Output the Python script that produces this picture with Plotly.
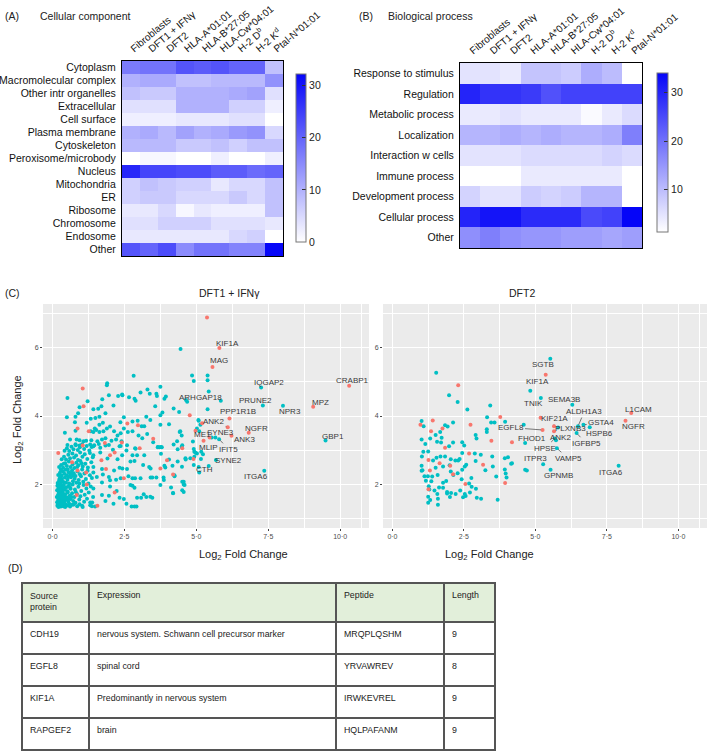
import plotly.graph_objects as go

FONT = "Liberation Sans, Arial, sans-serif"
W, H = 709, 752

# ---------------- Heatmap data ----------------
heat_cols = ["Fibroblasts", "DFT1 + IFNγ", "DFT2", "HLA-A*01:01", "HLA-B*27:05",
             "HLA-Cw*04:01", "H-2 D<sup>b</sup>", "H-2 K<sup>d</sup>", "Ptal-N*01:01"]

cc_rows = ["Cytoplasm", "Macromolecular complex", "Other intr organelles", "Extracellular",
           "Cell surface", "Plasma membrane", "Cytoskeleton", "Peroxisome/microbody",
           "Nucleus", "Mitochondria", "ER", "Ribosome", "Chromosome", "Endosome", "Other"]
cc_vals = [
    [17, 18, 18, 22, 21, 22, 20, 20, 8],
    [10, 11, 11, 8, 8, 9, 9, 9, 14],
    [8, 7, 7, 10, 10, 10, 11, 12, 4],
    [4, 4, 4, 10, 10, 10, 6, 6, 2],
    [2, 2, 2, 3, 3, 3, 4, 4, 0],
    [10, 11, 9, 12, 10, 11, 13, 14, 5],
    [9, 9, 9, 7, 7, 8, 6, 8, 8],
    [0, 1, 1, 0, 0, 2, 0, 0, 2],
    [28, 24, 24, 23, 23, 21, 21, 19, 20],
    [6, 8, 7, 6, 6, 3, 5, 5, 8],
    [6, 7, 7, 5, 5, 5, 7, 5, 8],
    [3, 3, 5, 1, 3, 2, 2, 2, 8],
    [4, 4, 6, 6, 6, 4, 4, 4, 3],
    [3, 3, 3, 3, 3, 3, 5, 6, 0],
    [22, 20, 23, 15, 18, 18, 16, 16, 32],
]

bp_rows = ["Response to stimulus", "Regulation", "Metabolic process", "Localization",
           "Interaction w cells", "Immune process", "Development process",
           "Cellular process", "Other"]
bp_vals = [
    [5, 5, 4, 9, 9, 8, 12, 10, 1.3],
    [30, 28, 28, 27, 24, 26, 26, 26, 26],
    [4, 4, 5, 4, 4, 4, 2, 4, 6],
    [11, 11, 12, 11, 12, 11, 11, 12, 18],
    [5, 5, 5, 6, 6, 6, 6, 7, 6],
    [1.3, 1.3, 1.3, 4, 4, 4, 4, 4, 1.3],
    [7, 5, 5, 8, 7, 8, 11, 11, 1.3],
    [30, 32, 32, 29, 29, 29, 25, 26, 34],
    [16, 18, 16, 15, 15, 14, 14, 13, 14],
]

# ---------------- Scatter data ----------------
left_teal = [
    # dense cluster
    (0.17,1.36),(0.21,1.33),(0.25,1.38),(0.29,1.34),(0.33,1.41),(0.38,1.35),(0.44,1.33),(0.52,1.37),
    (0.61,1.34),(0.69,1.39),(0.86,1.35),(1.05,1.33),(1.37,1.35),(1.48,1.34),(0.19,1.41),(0.23,1.43),
    (0.16,1.47),(0.2,1.52),(0.24,1.45),(0.28,1.55),(0.32,1.49),(0.37,1.58),(0.41,1.46),(0.46,1.53),
    (0.55,1.48),(0.63,1.56),(0.72,1.5),(0.8,1.45),(0.93,1.55),(1.1,1.48),(1.2,1.57),(1.31,1.46),
    (0.15,1.62),(0.19,1.68),(0.23,1.6),(0.27,1.72),(0.31,1.65),(0.35,1.77),(0.4,1.63),(0.44,1.7),
    (0.49,1.61),(0.53,1.75),(0.6,1.66),(0.68,1.73),(0.76,1.62),(0.85,1.71),(0.97,1.64),(1.12,1.69),
    (1.26,1.75),(1.41,1.62),(0.2,1.57),(0.3,1.41),(0.35,1.52),(0.22,1.75),(0.38,1.7),(0.45,1.4),
    (0.16,1.82),(0.21,1.88),(0.26,1.8),(0.3,1.93),(0.34,1.85),(0.39,1.97),(0.43,1.83),(0.48,1.91),
    (0.52,1.79),(0.57,1.95),(0.63,1.86),(0.7,1.99),(0.78,1.84),(0.9,1.92),(1.0,1.8),(1.08,1.97),
    (1.18,1.87),(1.33,1.93),(0.28,1.85),(0.17,1.95),(0.25,1.97),(0.42,1.88),(0.48,1.6),(0.58,1.42),
    (0.18,2.03),(0.23,2.1),(0.28,2.01),(0.33,2.15),(0.38,2.06),(0.43,2.19),(0.47,2.04),(0.52,2.13),
    (0.58,2.02),(0.64,2.2),(0.71,2.08),(0.77,2.16),(0.83,2.04),(0.91,2.12),(0.99,2.23),(1.07,2.07),
    (1.16,2.15),(1.25,2.02),(1.37,2.18),(0.32,2.08),(0.27,2.2),(0.66,1.62),(0.74,1.4),(0.94,1.41),
    (0.2,2.27),(0.26,2.33),(0.31,2.25),(0.36,2.38),(0.41,2.3),(0.46,2.42),(0.5,2.26),(0.56,2.35),
    (0.62,2.28),(0.68,2.41),(0.74,2.32),(0.8,2.24),(0.87,2.37),(0.95,2.29),(1.03,2.43),(1.11,2.31),
    (1.22,2.39),(1.3,2.26),(1.42,2.34),(0.23,2.5),(0.3,2.56),(0.37,2.48),(0.44,2.61),(0.5,2.53),
    (0.57,2.66),(0.63,2.5),(0.7,2.58),(0.76,2.47),(0.83,2.63),(0.9,2.55),(0.97,2.68),(1.05,2.52),
    (1.14,2.6),(1.23,2.49),(1.35,2.64),(0.32,2.73),(0.4,2.8),(0.47,2.72),(0.55,2.86),(0.61,2.76),
    (0.69,2.9),(0.75,2.78),(0.82,2.84),(0.89,2.71),(0.96,2.93),(1.04,2.8),(1.12,2.88),(1.21,2.74),
    (1.3,2.91),(1.4,2.79),(0.42,2.98),(0.5,3.05),(0.58,2.97),(0.66,3.1),(0.73,3.02),(0.81,3.14),
    (0.88,3.0),(0.95,3.08),(1.03,3.17),(1.1,3.03),(1.19,3.12),(1.28,2.99),(1.36,3.09),
    (0.26,1.66),(0.34,1.6),(0.56,1.57),(0.24,2.15),(0.36,1.9),(0.55,2.21),(0.66,2.33),(0.86,2.5),
    (0.61,1.9),(0.73,2.25),(0.93,2.02),(1.01,2.61),(0.53,2.43),(0.39,2.6),(0.29,2.43),(0.81,1.77),
    # surrounding points
    (0.52,4.53),(1.89,4.9),(0.94,4.26),(1.22,4.43),(1.73,4.49),(1.96,4.61),(2.28,4.59),(2.42,4.63),
    (2.12,4.31),(1.7,4.29),(1.42,4.2),(1.59,4.21),(0.89,4.08),(0.5,3.96),(0.8,3.98),(1.33,3.92),
    (1.49,3.94),(1.63,3.98),(1.84,4.08),(0.78,3.82),(1.19,3.8),(1.75,3.8),(1.63,3.74),(1.47,3.63),
    (1.33,3.55),(1.42,3.53),(1.52,3.59),(1.63,3.53),(1.77,3.55),(1.89,3.63),(2.0,3.69),(0.8,3.57),
    (0.43,3.51),(2.14,3.55),(2.37,3.49),(2.26,3.43),(0.61,3.31),(0.84,3.31),(0.94,3.29),(1.08,3.26),
    (1.17,3.27),(1.35,3.29),(1.56,3.26),(1.72,3.31),(1.84,3.35),(2.05,3.27),(2.21,3.31),(2.4,3.26),
    (0.52,3.15),(0.8,3.17),(0.94,3.13),(1.31,3.16),(1.45,3.14),(1.61,3.18),(1.96,3.15),(2.37,3.12),
    (1.42,3.11),(1.66,3.07),(1.84,3.13),(2.1,3.01),(2.33,3.11),(1.42,2.85),(1.66,2.93),(1.91,2.75),
    (2.26,2.73),(2.42,2.85),(1.42,2.5),(1.72,2.44),(2.14,2.4),(2.33,2.48),(1.54,2.21),(1.96,2.21),
    (1.72,2.05),(2.21,2.13),(2.37,2.17),(1.42,1.87),(2.0,1.93),(2.23,1.8),(1.72,1.68),(1.96,1.66),
    (1.84,1.5),(1.38,1.46),(2.12,1.42),(2.33,1.6),(1.31,1.38),(1.03,1.36),(1.75,2.28),(2.0,2.11),
    (2.82,5.18),(3.75,4.86),(3.06,4.69),(3.38,4.65),(3.61,4.65),(3.63,4.59),(2.66,4.55),(2.85,4.51),
    (2.89,4.45),(2.43,4.61),(3.89,4.51),(3.57,4.29),(4.21,4.22),(4.4,4.12),(3.82,4.1),(3.75,4.02),
    (3.26,3.98),(3.4,3.88),(2.96,3.86),(2.78,3.84),(2.48,3.96),(2.36,3.82),(5.07,3.88),(3.1,3.7),
    (3.19,3.7),(3.75,3.74),(4.05,3.76),(2.48,3.63),(2.62,3.53),(2.78,3.55),(2.99,3.43),(3.12,3.35),
    (3.29,3.47),(3.5,3.23),(4.42,3.53),(4.49,3.43),(2.59,3.14),(2.89,3.04),(3.66,3.08),(3.73,3.08),
    (3.8,3.08),(4.21,3.16),(4.35,3.02),(4.51,3.14),(4.88,3.25),
    (2.57,2.99),(2.87,3.05),(3.66,3.09),(3.77,3.09),(4.91,3.03),(2.78,2.85),(2.94,2.85),(3.19,2.85),
    (3.77,2.89),(4.05,2.72),(4.35,2.66),(4.63,2.72),(4.79,2.76),(2.71,2.66),(2.85,2.68),(3.15,2.56),
    (3.36,2.5),(3.41,2.46),(3.89,2.54),(4.17,2.54),(2.43,2.46),(2.59,2.44),(4.24,2.23),(2.64,2.23),
    (2.78,2.17),(2.87,2.17),(3.06,2.17),(3.41,2.19),(3.47,2.19),(3.61,2.19),(3.86,2.19),(2.71,1.97),
    (2.78,1.95),(3.75,1.97),(4.51,2.07),(4.56,1.99),(2.85,1.89),(4.19,1.74),(4.56,1.77),(3.17,1.7),
    (2.94,1.6),(3.08,1.6),(3.26,1.62),(3.47,1.6),(2.48,1.56),(2.57,1.42),(2.75,1.34),(2.85,1.34),
    (2.92,1.34),
    (4.45,5.97),(4.85,5.19),(4.91,5.03),(5.39,5.19),(5.39,5.05),(5.43,4.72),(4.64,4.47),(4.68,4.42),
    (5.85,4.45),(5.39,4.2),(5.08,3.86),(5.14,3.74),(5.02,3.63),(5.1,3.55),(5.53,3.37),(5.66,3.37),
    (5.79,3.32),(4.93,2.95),(5.02,2.9),(5.17,2.95),(5.16,2.74),(4.91,2.56),(4.62,2.76),(4.5,2.51),
    (4.56,2.07),(4.59,1.97),(4.51,1.82),(4.19,1.73),(4.12,1.9),(3.87,2.12),(3.92,2.49),(4.24,2.26),
    (3.4,1.63),(5.43,2.53),(5.1,2.34),(5.68,2.71),(7.36,2.39),(7.25,4.84),(7.31,4.31),(8.01,4.3),
    (9.49,3.28),(3.3,4.78),(3.94,4.57),(4.33,3.26),(4.49,3.1),(4.44,3.55),(5.08,2.5),(4.97,2.92),
    (4.93,2.8),(5.23,2.88),(1.9,4.96),
]
left_red = [
    (5.37,6.89),(5.8,6.0),(5.56,5.44),(10.31,4.89),(9.06,4.27),(6.15,3.93),(6.09,3.67),(6.82,3.51),
    (6.22,3.42),(5.25,3.27),(1.05,4.81),(1.08,4.29),(0.87,3.63),(1.26,3.55),(1.82,3.21),(1.05,3.13),
    (0.2,2.91),(0.68,2.64),(0.87,2.4),(1.17,2.34),(0.84,1.68),(1.7,2.7),(2.0,2.85),(2.16,2.93),
    (1.86,2.44),(2.16,1.75),(1.56,1.36),(1.19,1.99),(4.77,4.02),(2.97,3.73),(3.5,3.33),(2.41,3.22),
    (3.03,3.05),(4.51,3.05),(3.98,2.7),(3.75,2.46),(4.19,2.28),(2.48,2.17),(5.2,3.79),(4.9,2.74),
    (4.97,3.57),(5.46,3.37),(2.6,3.78),
]

right_teal = [
    (1.53,5.27),(1.98,4.61),(2.28,4.41),(2.62,4.19),(3.42,4.31),(3.31,3.96),(3.45,3.81),(3.57,3.81),
    (3.94,3.83),(1.02,3.85),(1.09,3.7),(1.84,3.73),(1.93,3.69),(2.12,3.81),(1.67,3.53),(1.51,3.44),
    (1.32,3.34),(1.15,3.18),(1.02,3.31),(1.72,3.36),(1.56,3.24),(1.7,3.22),(3.3,3.61),(3.3,3.53),
    (2.91,3.44),(2.94,3.34),(2.12,3.22),(2.44,3.23),(2.51,3.13),(1.98,3.11),(1.08,2.95),(1.03,2.81),
    (1.25,2.96),(1.68,2.81),(1.84,2.81),(2.44,2.91),(2.88,2.9),(3.09,2.86),(2.35,2.74),(2.3,2.69),
    (1.54,2.77),(1.42,2.69),(2.04,2.73),(2.2,2.69),(2.91,2.68),(3.49,2.81),(3.93,2.76),(4.04,2.79),
    (4.18,2.61),(4.7,2.4),(1.02,2.54),(1.05,2.41),(1.02,2.39),(1.51,2.48),(1.77,2.52),(2.0,2.55),
    (2.04,2.37),(2.13,2.27),(2.28,2.32),(2.44,2.42),(2.53,2.52),(2.58,2.57),(3.25,2.41),(3.51,2.52),
    (3.93,2.43),(3.96,2.31),(3.63,2.22),(3.99,2.19),(1.12,2.23),(1.24,2.23),(1.39,2.22),(1.58,2.27),
    (1.17,2.1),(1.36,2.08),(1.77,2.04),(1.88,2.09),(2.76,2.18),(2.42,2.14),(2.68,2.02),(1.27,1.94),
    (1.63,1.9),(1.29,1.84),(1.47,1.81),(1.77,1.89),(1.91,1.77),(2.05,1.74),(2.21,1.71),(2.37,1.81),
    (2.53,1.71),(2.77,1.92),(2.92,1.86),(1.25,1.63),(1.32,1.53),(1.25,1.45),(1.57,1.71),(1.59,1.57),
    (1.59,1.39),(1.91,1.72),(2.01,1.62),(2.47,1.61),(2.56,1.65),(2.71,1.75),(2.95,1.6),(3.1,1.57),
    (3.68,1.54),
    (5.52,5.68),(5.19,4.53),(4.82,4.74),(6.29,4.33),(6.49,3.7),(6.68,3.74),(6.9,3.67),(6.44,3.5),
    (5.79,3.66),(4.64,3.21),(4.59,3.74),(5.72,3.29),(5.68,3.34),(5.75,3.05),(5.27,2.58),(5.53,2.42),
    (7.91,2.54),(4.64,2.42),(4.15,2.6),
]
right_red = [
    (2.3,4.9),(3.77,3.97),(0.98,3.74),(1.41,3.87),(1.35,3.55),(1.75,3.63),(2.73,3.74),(3.46,3.27),
    (4.18,3.23),(1.84,3.07),(2.68,2.9),(1.26,2.71),(1.65,2.61),(2.02,2.54),(3.17,2.57),(1.31,2.4),
    (2.12,2.29),(1.26,1.85),(2.55,2.0),(3.94,2.03),(5.18,3.95),(5.65,3.7),(5.65,3.55),(5.25,3.59),
    (8.35,4.09),(8.15,3.86),(5.36,5.21),
]

# labels: (name, point x, point y, text x, text y, draw segment)
left_labels = [
    ("KIF1A", 5.8, 6.0, 6.08, 6.12, False), ("MAG", 5.56, 5.44, 5.8, 5.63, False),
    ("IQGAP2", 7.25, 4.84, 7.51, 4.97, False), ("CRABP1", 10.31, 4.89, 10.43, 5.03, False),
    ("ARHGAP18", 4.64, 4.47, 5.14, 4.54, False), ("PRUNE2", 7.31, 4.31, 7.05, 4.47, False),
    ("NPR3", 8.01, 4.3, 8.26, 4.12, False), ("MPZ", 9.06, 4.27, 9.31, 4.41, False),
    ("PPP1R1B", 6.15, 3.93, 6.43, 4.13, True), ("ANK2", 6.09, 3.67, 5.6, 3.83, True),
    ("NGFR", 6.82, 3.51, 7.08, 3.64, False), ("ANK3", 6.22, 3.42, 6.68, 3.31, False),
    ("ME1", 4.97, 3.57, 5.2, 3.47, False), ("SYNE3", 5.53, 3.37, 5.83, 3.51, True),
    ("MLIP", 5.25, 3.27, 5.43, 3.08, True), ("IFIT5", 5.79, 3.32, 6.12, 3.02, True),
    ("SYNE2", 5.68, 2.71, 6.12, 2.7, False), ("CTH", 5.1, 2.34, 5.29, 2.43, False),
    ("ITGA6", 7.36, 2.39, 7.07, 2.21, False), ("GBP1", 9.5, 3.29, 9.75, 3.41, False),
]
right_labels = [
    ("SGTB", 5.52, 5.68, 5.28, 5.51, False), ("KIF1A", 5.36, 5.21, 5.08, 5.02, False),
    ("TNIK", 5.19, 4.53, 4.92, 4.36, False), ("SEMA3B", 6.29, 4.33, 6.01, 4.48, False),
    ("L1CAM", 8.35, 4.09, 8.62, 4.2, False), ("NGFR", 8.15, 3.86, 8.43, 3.68, False),
    ("ALDH1A3", 6.49, 3.7, 6.71, 4.13, True), ("GSTA4", 6.68, 3.74, 7.3, 3.8, True),
    ("HSPB6", 6.9, 3.67, 7.23, 3.5, False), ("IGFBP5", 6.44, 3.5, 6.77, 3.2, True),
    ("PLXNB3", 5.79, 3.66, 6.22, 3.62, False), ("KIF21A", 5.65, 3.7, 5.65, 3.93, True),
    ("EGFL8", 5.25, 3.59, 4.13, 3.66, True), ("FHOD1", 4.64, 3.21, 4.87, 3.34, False),
    ("ANK2", 5.72, 3.29, 5.89, 3.37, False), ("HPSE", 5.68, 3.34, 5.33, 3.06, True),
    ("VAMP5", 5.75, 3.05, 6.15, 2.76, True), ("ITPR3", 5.27, 2.58, 4.99, 2.74, False),
    ("GPNMB", 5.53, 2.42, 5.79, 2.24, False), ("ITGA6", 7.91, 2.54, 7.64, 2.34, False),
]

x_tickvals = [0, 2.5, 5, 7.5, 10]
x_ticktext = ["0·0", "2·5", "5·0", "7·5", "10·0"]
y_tickvals = [2, 4, 6]

# ---------------- Table data ----------------
tbl_header = ["Source<br>protein", "Expression", "Peptide", "Length"]
tbl_protein = ["CDH19", "EGFL8", "KIF1A", "RAPGEF2"]
tbl_expression = ["nervous system. Schwann cell precursor marker", "spinal cord",
                  "Predominantly in nervous system", "brain"]
tbl_peptide = ["MRQPLQSHM", "YRVAWREV", "IRWKEVREL", "HQLPAFANM"]
tbl_length = ["9", "8", "9", "9"]

# ---------------- Figure ----------------
def px(x): return x / W
def py(y): return 1 - y / H

blue_scale = [[0, "#FFFFFF"], [1, "#0505F8"]]
fig = go.Figure()

fig.add_trace(go.Heatmap(
    z=cc_vals, x=heat_cols, y=cc_rows, colorscale=blue_scale, zmin=0, zmax=32.2,
    xaxis="x", yaxis="y",
    colorbar=dict(x=px(296), xanchor="left", y=py(158), yanchor="middle", len=168 / H,
                  thickness=10, outlinewidth=1, outlinecolor="#777",
                  tickvals=[0, 10, 20, 30], ticks="inside", ticklen=4, tickcolor="#333",
                  tickfont=dict(size=10.5, family=FONT, color="#222"), xpad=0, ypad=0)))
fig.add_trace(go.Heatmap(
    z=bp_vals, x=heat_cols, y=bp_rows, colorscale=blue_scale, zmin=1.3, zmax=34,
    xaxis="x2", yaxis="y2",
    colorbar=dict(x=px(657), xanchor="left", y=py(152.5), yanchor="middle", len=159 / H,
                  thickness=11, outlinewidth=1, outlinecolor="#777",
                  tickvals=[10, 20, 30], ticks="inside", ticklen=4, tickcolor="#333",
                  tickfont=dict(size=10.5, family=FONT, color="#222"), xpad=0, ypad=0)))

teal, red = "#00BFC4", "#F8766D"
for pts, col, xa, ya in [(left_teal, teal, "x3", "y3"), (left_red, red, "x3", "y3"),
                         (right_teal, teal, "x4", "y4"), (right_red, red, "x4", "y4")]:
    fig.add_trace(go.Scatter(x=[p[0] for p in pts], y=[p[1] for p in pts], mode="markers",
                             marker=dict(color=col, size=4, line=dict(width=0)),
                             xaxis=xa, yaxis=ya, showlegend=False, hoverinfo="skip"))

fig.add_trace(go.Table(
    domain=dict(x=[px(22), px(495)], y=[0.0, py(583)]),
    columnwidth=[67, 247, 108, 51],
    header=dict(values=tbl_header, fill_color="#E2EFDA", line=dict(color="#555", width=1.2),
                align="left", height=39, font=dict(size=8.8, family=FONT, color="#222")),
    cells=dict(values=[tbl_protein, tbl_expression, tbl_peptide, tbl_length],
               fill_color="white", line=dict(color="#555", width=1.2),
               align="left", height=32, font=dict(size=8.8, family=FONT, color="#222"))))

heat_x = dict(side="top", tickangle=-40, showline=True, mirror=True, linecolor="black",
              linewidth=1.2, ticks="outside", ticklen=2, tickcolor="rgba(0,0,0,0)",
              tickfont=dict(size=10, family=FONT, color="#111"),
              showgrid=False, zeroline=False, automargin=False)
heat_y = dict(autorange="reversed", showline=True, mirror=True, linecolor="black",
              linewidth=1.2, ticks="outside", ticklen=3, tickcolor="rgba(0,0,0,0)",
              tickfont=dict(size=10.5, family=FONT, color="#111"),
              showgrid=False, zeroline=False, automargin=False)

def sc_x(dom, anchor):
    return dict(domain=dom, anchor=anchor, range=[-0.33, 11.0], tickvals=x_tickvals,
                ticktext=x_ticktext, showgrid=True, gridcolor="white", gridwidth=1.1,
                minor=dict(tickvals=[1.25, 3.75, 6.25, 8.75, 10.75], showgrid=True,
                           gridcolor="white", gridwidth=0.5, ticks=""),
                zeroline=False, ticks="outside", ticklen=2, tickcolor="#444",
                tickfont=dict(size=7, family=FONT, color="#4D4D4D"), showline=False,
                automargin=False)

def sc_y(dom, anchor):
    return dict(domain=dom, anchor=anchor, range=[0.71, 7.29], tickvals=y_tickvals,
                showgrid=True, gridcolor="white", gridwidth=1.1,
                minor=dict(tickvals=[1, 3, 5, 7], showgrid=True, gridcolor="white",
                           gridwidth=0.5, ticks=""),
                zeroline=False, ticks="outside", ticklen=2, tickcolor="#444",
                tickfont=dict(size=7, family=FONT, color="#4D4D4D"), showline=False,
                automargin=False)

sc_ydom = [py(528), py(304)]
fig.update_layout(
    width=W, height=H, margin=dict(l=0, r=0, t=0, b=0, autoexpand=False), autosize=False,
    paper_bgcolor="white", plot_bgcolor="#EBEBEB", showlegend=False,
    font=dict(family=FONT, color="#222"),
    xaxis=dict(domain=[px(122), px(283)], anchor="y", **heat_x),
    yaxis=dict(domain=[py(256), py(61)], anchor="x", **heat_y),
    xaxis2=dict(domain=[px(460), px(642)], anchor="y2", **heat_x),
    yaxis2=dict(domain=[py(248), py(63)], anchor="x2", **heat_y),
    xaxis3=sc_x([px(43), px(369)], "y3"),
    yaxis3=sc_y(sc_ydom, "x3"),
    xaxis4=sc_x([px(383), px(707)], "y4"),
    yaxis4=sc_y(sc_ydom, "x4"),
)

ann = []
def txt(x, y, s, size=10.5, **kw):
    ann.append(dict(x=px(x), y=py(y), xref="paper", yref="paper", text=s, showarrow=False,
                    font=dict(size=size, family=FONT, color="#222"), **kw))

txt(3, 8, "(A)", xanchor="left")
txt(38, 8, "Cellular component", xanchor="left")
txt(357, 8, "(B)", xanchor="left")
txt(386, 8, "Biological process", xanchor="left")
txt(3, 293, "(C)", xanchor="left")
txt(197, 293, "DFT1 + IFNγ")
txt(537, 293, "DFT2")
txt(6, 576, "(D)", xanchor="left")
txt(197, 546, "Log<sub>2</sub> Fold Change", size=11, yanchor="top")
txt(536, 546, "Log<sub>2</sub> Fold Change", size=11, yanchor="top")
txt(18, 420, "Log<sub>2</sub> Fold Change", size=11, textangle=-90, xanchor="center")

for labels, xr, yr in [(left_labels, "x3", "y3"), (right_labels, "x4", "y4")]:
    for name, ptx, pty, tx, ty, seg in labels:
        f = dict(size=8, family=FONT, color="#3A3A3A")
        if seg:
            ann.append(dict(x=ptx, y=pty, xref=xr, yref=yr, ax=tx, ay=ty, axref=xr, ayref=yr,
                            text=name, showarrow=True, arrowhead=0, arrowwidth=0.7,
                            arrowcolor="#444", standoff=1.5, font=f))
        else:
            ann.append(dict(x=tx, y=ty, xref=xr, yref=yr, text=name, showarrow=False, font=f))

fig.update_layout(annotations=ann)
fig.write_html("out.html", config={"displayModeBar": False},
               post_script="document.body.style.margin='0';document.body.style.overflow='hidden';")
